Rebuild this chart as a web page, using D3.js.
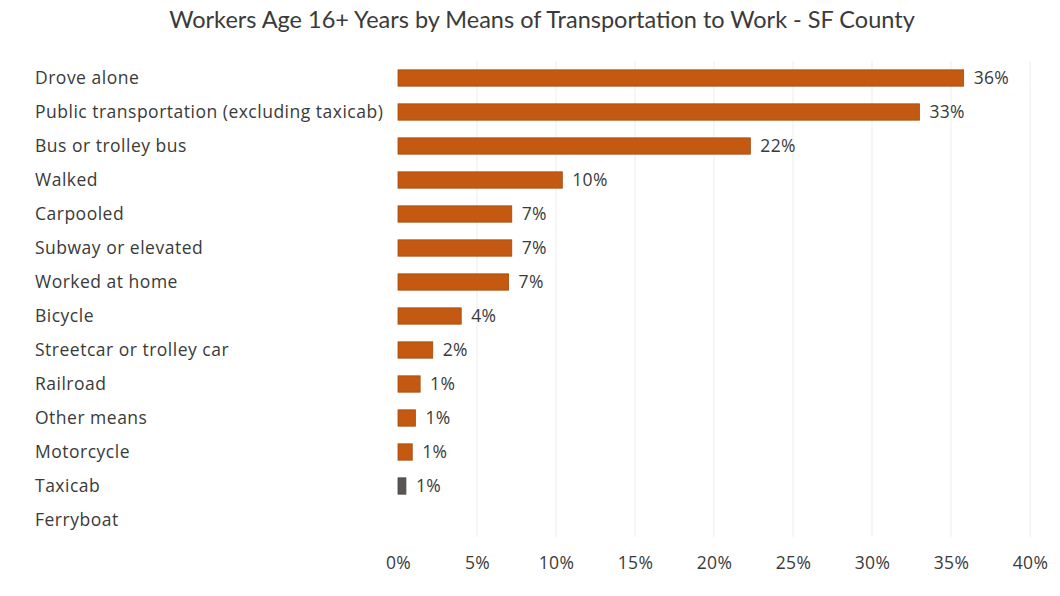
<!DOCTYPE html>
<html>
<head>
<meta charset="utf-8">
<script src="https://cdn.jsdelivr.net/npm/d3@7"></script>
<style>
  html, body { margin: 0; padding: 0; background: #ffffff; }
  svg { display: block; }
</style>
</head>
<body>
<svg id="chart" width="1060" height="596"></svg>
<script>
// Means of transportation to work, SF County (share of workers 16+, percent)
const categories = [
  "Drove alone",
  "Public transportation (excluding taxicab)",
  "Bus or trolley bus",
  "Walked",
  "Carpooled",
  "Subway or elevated",
  "Worked at home",
  "Bicycle",
  "Streetcar or trolley car",
  "Railroad",
  "Other means",
  "Motorcycle",
  "Taxicab",
  "Ferryboat"
];
const shares = [35.8, 33.0, 22.3, 10.4, 7.2, 7.2, 7.0, 4.0, 2.2, 1.4, 1.1, 0.9, 0.5, 0];
const xTicks = [0, 5, 10, 15, 20, 25, 30, 35, 40];
const chartTitle = "Workers Age 16+ Years by Means of Transportation to Work - SF County";

const rows = categories.map((c, i) => ({ name: c, value: shares[i] }));

const svg = d3.select("#chart");
const W = 1060, H = 596;
const plot = { left: 398, right: 1030, top: 61, bottom: 537 };
const textFont = "'Open Sans', sans-serif";
const textColor = "#3a3a3a";

svg.append("rect").attr("width", W).attr("height", H).attr("fill", "#ffffff");

const x = d3.scaleLinear().domain([0, 40]).range([plot.left, plot.right]);
const y = d3.scaleBand().domain(categories).range([plot.top, plot.bottom]).paddingInner(0.52).paddingOuter(0.26);

// Title
svg.append("text")
  .attr("x", 542).attr("y", 28)
  .attr("text-anchor", "middle")
  .attr("font-family", "Lato, 'Open Sans', sans-serif")
  .attr("font-size", 23.5)
  .attr("fill", textColor)
  .text(chartTitle);

// Vertical gridlines
svg.append("g")
  .selectAll("line")
  .data(xTicks.filter(t => t > 0))
  .join("line")
  .attr("x1", d => x(d)).attr("x2", d => x(d))
  .attr("y1", plot.top).attr("y2", plot.bottom)
  .attr("stroke", "#ededed")
  .attr("stroke-width", 1);

// Category labels
svg.append("g")
  .selectAll("text")
  .data(rows)
  .join("text")
  .attr("x", 35)
  .attr("y", d => y(d.name) + y.bandwidth() / 2)
  .attr("dy", "0.35em")
  .attr("font-family", textFont)
  .attr("font-size", 17.5)
  .attr("letter-spacing", 0.5)
  .attr("fill", textColor)
  .text(d => d.name);

// Bars
svg.append("g")
  .selectAll("rect")
  .data(rows.filter(d => d.value > 0))
  .join("rect")
  .attr("x", x(0))
  .attr("y", d => y(d.name))
  .attr("width", d => x(d.value) - x(0))
  .attr("height", y.bandwidth())
  .attr("fill", d => d.name === "Taxicab" ? "#5a5550" : "#c45a12")
  .attr("stroke", d => d.name === "Taxicab" ? "#444" : "#a34a0e")
  .attr("stroke-width", 0.8);

// Value labels
svg.append("g")
  .selectAll("text")
  .data(rows.filter(d => d.value > 0))
  .join("text")
  .attr("x", d => x(d.value) + 10)
  .attr("y", d => y(d.name) + y.bandwidth() / 2)
  .attr("dy", "0.35em")
  .attr("font-family", textFont)
  .attr("font-size", 17.5)
  .attr("letter-spacing", 0.3)
  .attr("fill", textColor)
  .text(d => Math.round(d.value) + "%");

// X axis tick labels
const axis = d3.axisBottom(x).tickValues(xTicks).tickSize(0).tickPadding(0).tickFormat(d => d + "%");
const gx = svg.append("g").attr("transform", `translate(0, ${plot.bottom})`).call(axis);
gx.select(".domain").remove();
gx.selectAll("text")
  .attr("y", 26)
  .attr("dy", "0.35em")
  .attr("font-family", textFont)
  .attr("font-size", 17.5)
  .attr("letter-spacing", 0.3)
  .attr("fill", textColor);
</script>
</body>
</html>
